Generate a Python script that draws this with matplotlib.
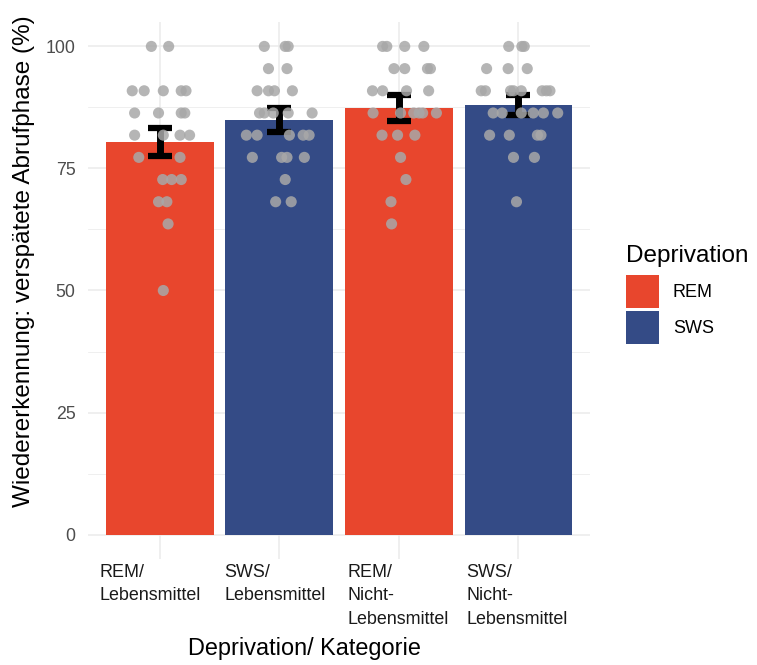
import matplotlib
matplotlib.use("Agg")
import matplotlib.pyplot as plt
from matplotlib.patches import Patch
from matplotlib.transforms import blended_transform_factory, ScaledTranslation

plt.rcParams['font.family'] = ['Liberation Sans', 'DejaVu Sans']

# Groups on the x axis
categories = ["REM/\nLebensmittel", "SWS/\nLebensmittel",
              "REM/\nNicht-\nLebensmittel", "SWS/\nNicht-\nLebensmittel"]
deprivation = ["REM", "SWS", "REM", "SWS"]

# Group means and standard errors (%)
means = [80.4, 84.9, 87.35, 87.95]
sems = [2.9, 2.5, 2.65, 2.05]

# Individual recognition scores (%) per group
scores_rem_food = [100, 100,
                   90.91, 90.91, 90.91, 90.91, 90.91,
                   86.36, 86.36, 86.36, 86.36,
                   81.82, 81.82, 81.82, 81.82,
                   77.27, 77.27,
                   72.73, 72.73, 72.73,
                   68.18, 68.18,
                   63.64,
                   50.0]
scores_sws_food = [100, 100, 100,
                   95.45, 95.45,
                   90.91, 90.91, 90.91, 90.91,
                   86.36, 86.36, 86.36, 86.36, 86.36,
                   81.82, 81.82, 81.82, 81.82, 81.82,
                   77.27, 77.27, 77.27, 77.27,
                   72.73,
                   68.18, 68.18]
scores_rem_nonfood = [100, 100, 100, 100,
                      95.45, 95.45, 95.45, 95.45,
                      90.91, 90.91, 90.91, 90.91,
                      86.36, 86.36, 86.36, 86.36, 86.36, 86.36,
                      81.82, 81.82, 81.82,
                      77.27,
                      72.73,
                      68.18,
                      63.64]
scores_sws_nonfood = [100, 100, 100,
                      95.45, 95.45, 95.45,
                      90.91, 90.91, 90.91, 90.91, 90.91, 90.91, 90.91, 90.91,
                      86.36, 86.36, 86.36, 86.36, 86.36, 86.36,
                      81.82, 81.82, 81.82, 81.82,
                      77.27, 77.27,
                      68.18]

# Horizontal jitter of the points (category units)
jitter_rem_food = [-0.07, 0.075,
                   -0.23, -0.13, 0.03, 0.18, 0.22,
                   -0.21, -0.01, 0.18, 0.21,
                   -0.21, 0.03, 0.17, 0.25,
                   -0.175, 0.17,
                   0.025, 0.10, 0.18,
                   -0.01, 0.06,
                   0.07,
                   0.03]
jitter_sws_food = [-0.125, 0.05, 0.075,
                   -0.09, 0.065,
                   -0.185, -0.09, -0.04, 0.11,
                   -0.165, -0.125, -0.05, 0.075, 0.275,
                   -0.275, -0.185, 0.085, 0.2, 0.25,
                   -0.225, 0.02, 0.065, 0.21,
                   0.05,
                   -0.03, 0.1]
jitter_rem_nonfood = [-0.135, -0.10, 0.05, 0.21,
                      -0.04, 0.05, 0.24, 0.265,
                      -0.22, -0.135, 0.065, 0.25,
                      -0.215, 0.015, 0.125, 0.17, 0.2, 0.315,
                      -0.14, -0.01, 0.135,
                      0.015,
                      0.06,
                      -0.065,
                      -0.06]
jitter_sws_nonfood = [-0.08, 0.03, 0.05,
                      -0.265, -0.085, 0.075,
                      -0.31, -0.275, -0.065, -0.04, 0.025, 0.2, 0.235, 0.265,
                      -0.21, -0.135, 0.025, 0.125, 0.21, 0.33,
                      -0.24, -0.075, 0.16, 0.19,
                      -0.04, 0.135,
                      -0.015]

scores = [scores_rem_food, scores_sws_food, scores_rem_nonfood, scores_sws_nonfood]
jitters = [jitter_rem_food, jitter_sws_food, jitter_rem_nonfood, jitter_sws_nonfood]

colors = {"REM": "#E8462D", "SWS": "#344B86"}
grid_col = "#EBEBEB"

fig = plt.figure(figsize=(7.57, 6.65), dpi=100)
ax = fig.add_axes([88 / 757, 1 - 559 / 665, (590 - 88) / 757, (559 - 22) / 665])

x = list(range(len(categories)))

# grid (ggplot minimal style)
for yv in [0, 25, 50, 75, 100]:
    ax.axhline(yv, color=grid_col, lw=1.1, zorder=0)
for yv in [12.5, 37.5, 62.5, 87.5]:
    ax.axhline(yv, color=grid_col, lw=0.55, zorder=0)
for xv in x:
    ax.axvline(xv, color=grid_col, lw=1.1, zorder=0)

# bars
ax.bar(x, means, width=0.9, color=[colors[d] for d in deprivation], zorder=1)

# error bars
for xi, m, s in zip(x, means, sems):
    ax.vlines(xi, m - s, m + s, color="black", lw=5, zorder=2, capstyle="butt")
    ax.hlines([m - s, m + s], xi - 0.1, xi + 0.1, color="black", lw=4.5, zorder=2,
              capstyle="butt")

# individual points
for xi, sc, jt in zip(x, scores, jitters):
    ax.scatter([xi + j for j in jt], sc, s=64, color="#A8A8A8", alpha=0.85,
               edgecolors="none", zorder=3)

ax.set_xlim(-0.6, 3.6)
ax.set_ylim(-5, 105)
ax.set_yticks([0, 25, 50, 75, 100])
ax.set_yticklabels(["0", "25", "50", "75", "100"])
ax.set_xticks(x)
ax.set_xticklabels([])
ax.tick_params(axis="both", length=0)
ax.tick_params(axis="y", labelsize=12.8, labelcolor="#4D4D4D", pad=9)
for sp in ax.spines.values():
    sp.set_visible(False)

# category labels, lines left-aligned within each block
label_shift_px = [-10, -4, -1, -1]
base = blended_transform_factory(ax.transData, fig.transFigure)
for xi, lab, dx in zip(x, categories, label_shift_px):
    tr = base + ScaledTranslation(dx / 100, 0, fig.dpi_scale_trans)
    ax.text(xi, 1 - 564 / 665, lab, transform=tr, ha="center", va="top",
            multialignment="left", fontsize=12.9, color="#1A1A1A", linespacing=1.5)

fig.text(304 / 757, 1 - 648 / 665, "Deprivation/ Kategorie", ha="center",
         va="center", fontsize=16.9, color="black")
fig.text(24 / 757, 1 - 261 / 665, "Wiedererkennung: verspätete Abrufphase (%)",
         ha="center", va="center", rotation=90, fontsize=17.5, color="black")

handles = [Patch(facecolor=colors["REM"], edgecolor="none", label="REM"),
           Patch(facecolor=colors["SWS"], edgecolor="none", label="SWS")]
leg = fig.legend(handles=handles, title="Deprivation", loc="upper left",
                 bbox_to_anchor=(626 / 757, 1 - 245 / 665), frameon=False,
                 fontsize=13, title_fontsize=17.5, handlelength=1.85,
                 handleheight=2.5, labelspacing=0.12, handletextpad=0.75,
                 borderpad=0, borderaxespad=0, alignment="left")
# extra room between the legend title and the keys
leg._legend_box.sep = 5.5

fig.savefig("out.png", dpi=100)
